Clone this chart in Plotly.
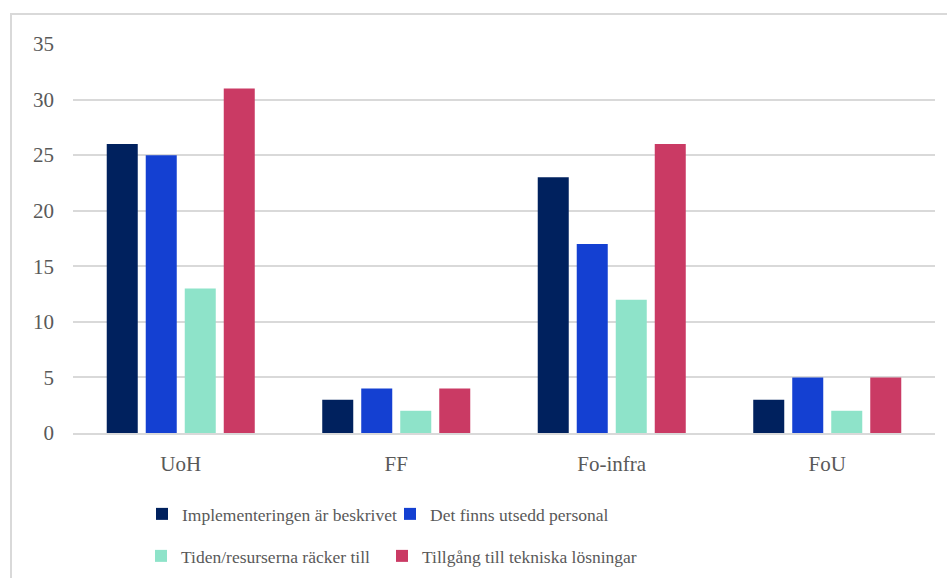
import plotly.graph_objects as go

categories = ["UoH", "FF", "Fo-infra", "FoU"]
series_names = [
    "Implementeringen är beskrivet",
    "Det finns utsedd personal",
    "Tiden/resurserna räcker till",
    "Tillgång till tekniska lösningar",
]
implementering = [26, 3, 23, 3]
personal = [25, 4, 17, 5]
tiden = [13, 2, 12, 2]
tillgang = [31, 4, 26, 5]
y_ticks = [0, 5, 10, 15, 20, 25, 30, 35]

colors = ["#00215E", "#1440D2", "#8EE3C9", "#CA3A64"]
values = [implementering, personal, tiden, tillgang]
legend_ids = ["legend", "legend2", "legend3", "legend4"]

W, H = 947, 578
L, R, T, B = 73, 12, 44, 145
pw, ph = W - L - R, H - T - B

def px_x(x):
    return (x - L) / pw

def px_y(y):
    return (H - B - y) / ph

fig = go.Figure()
for name, vals, c, lg in zip(series_names, values, colors, legend_ids):
    fig.add_trace(go.Bar(
        x=categories, y=vals, name=name, marker=dict(color=c, line=dict(width=0)),
        legend=lg, showlegend=True,
    ))

font_family = "Liberation Serif, Tinos, Times New Roman, serif"
gray = "#595959"

legend_pos = [(142, 514), (390, 514), (141, 556), (382, 556)]
legend_layout = {}
for lg, (lx, ly) in zip(legend_ids, legend_pos):
    legend_layout[lg] = dict(
        orientation="h", x=px_x(lx), y=px_y(ly), xanchor="left", yanchor="middle",
        font=dict(size=17.5, color=gray, family=font_family), bgcolor="rgba(0,0,0,0)",
    )

fig.update_layout(
    width=W, height=H,
    showlegend=True,
    margin=dict(l=L, r=R, t=T, b=B, autoexpand=False),
    paper_bgcolor="white", plot_bgcolor="white",
    barmode="group", bargap=0.276, bargroupgap=0.205,
    font=dict(family=font_family, color=gray),
    xaxis=dict(
        showgrid=False, showline=True, linecolor="#D9D9D9", linewidth=2,
        ticks="", tickfont=dict(size=21, color=gray, family=font_family),
        ticklabelstandoff=11,
    ),
    yaxis=dict(
        range=[0, 35], tickvals=y_ticks, showgrid=True, gridcolor="#D9D9D9",
        gridwidth=2, zeroline=False, showline=False, ticks="",
        tickfont=dict(size=21, color=gray, family=font_family),
        ticklabelstandoff=18,
    ),
    shapes=[dict(
        type="rect", xref="paper", yref="paper",
        x0=px_x(11), x1=px_x(960), y0=px_y(590), y1=px_y(14),
        line=dict(color="#D9D9D9", width=2), fillcolor="rgba(0,0,0,0)", layer="below",
    )],
    **legend_layout,
)

fig.write_html("out.html")
